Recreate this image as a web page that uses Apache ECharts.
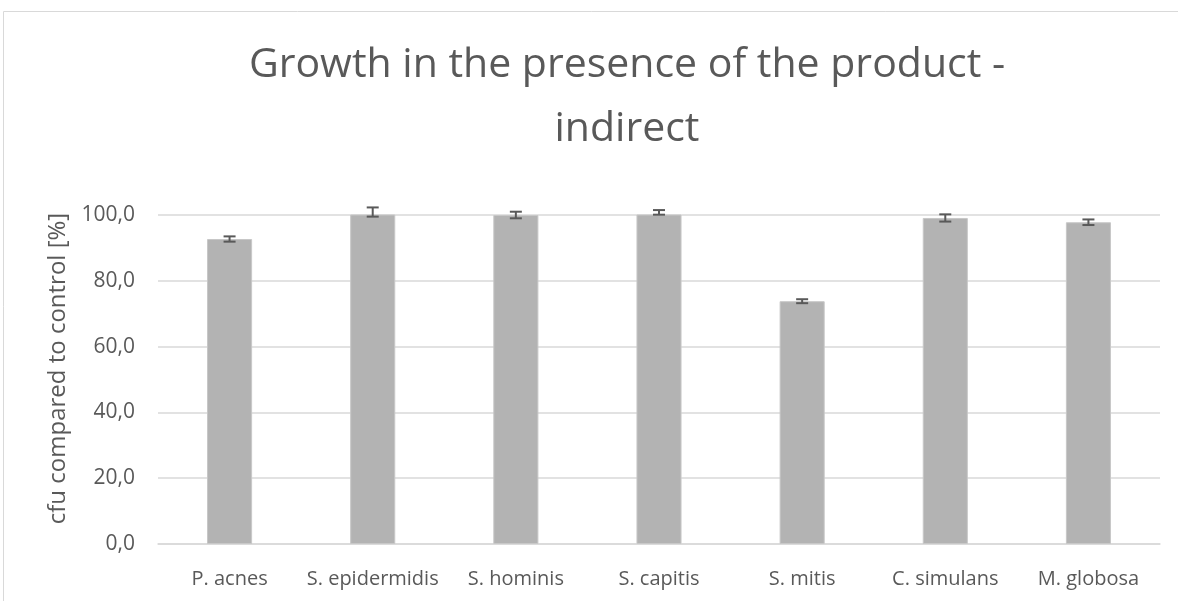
<!DOCTYPE html>
<html>
<head>
<meta charset="utf-8">
<script src="https://cdn.jsdelivr.net/npm/echarts@6/dist/echarts.min.js"></script>
<style>
  html, body { margin: 0; padding: 0; background: #fff; }
  #chart { width: 1178px; height: 601px; }
</style>
</head>
<body>
<div id="chart"></div>
<script>
// data
const categories = ['P. acnes', 'S. epidermidis', 'S. hominis', 'S. capitis', 'S. mitis', 'C. simulans', 'M. globosa'];
const growth = [92.7, 100.9, 100.0, 100.8, 73.8, 99.1, 97.8];
const errors = [0.8, 1.4, 1.0, 0.7, 0.6, 1.1, 0.85];
const yTicks = [0, 20, 40, 60, 80, 100];

const FONT = '"Open Sans", sans-serif';
const TEXT = '#595959';

const chart = echarts.init(document.getElementById('chart'));

// whisker data: [index, low, high]
const errorData = growth.map((v, i) => [i, v - errors[i], v + errors[i]]);

const option = {
  animation: false,
  title: {
    text: 'Growth in the presence of the product -\nindirect',
    left: 622,
    textAlign: 'center',
    top: 28,
    textStyle: {
      fontFamily: FONT,
      fontSize: 41,
      fontWeight: 'normal',
      color: TEXT,
      lineHeight: 64
    }
  },
  graphic: [
    {
      type: 'rect',
      shape: { x: 3.5, y: 11.5, width: 1200, height: 620 },
      style: { fill: 'none', stroke: '#d9d9d9', lineWidth: 1 },
      silent: true
    }
  ],
  grid: {
    left: 158,
    right: 18,
    top: 215,
    bottom: 57
  },
  xAxis: {
    type: 'category',
    data: categories,
    axisTick: { show: false },
    axisLine: { lineStyle: { color: '#d9d9d9', width: 1.5 } },
    axisLabel: {
      interval: 0,
      fontFamily: FONT,
      fontSize: 20,
      color: TEXT,
      margin: 25
    }
  },
  yAxis: {
    type: 'value',
    min: 0,
    max: 100,
    interval: 20,
    name: 'cfu compared to control [%]',
    nameLocation: 'middle',
    nameGap: 88,
    nameTextStyle: { fontFamily: FONT, fontSize: 24, color: TEXT, padding: [0, 0, 0, 22] },
    axisLine: { show: false },
    axisTick: { show: false },
    splitLine: { lineStyle: { color: '#d9d9d9', width: 1.5 } },
    axisLabel: {
      fontFamily: FONT,
      fontSize: 21,
      color: TEXT,
      margin: 23,
      formatter: v => yTicks.includes(v) ? v.toFixed(1).replace('.', ',') : ''
    }
  },
  series: [
    {
      name: 'growth',
      type: 'bar',
      data: growth,
      barWidth: '31.5%',
      itemStyle: { color: '#b3b3b3', borderColor: '#c8c8c8', borderWidth: 1 }
    },
    {
      name: 'error',
      type: 'custom',
      data: errorData,
      z: 10,
      renderItem: function (params, api) {
        const x = api.coord([api.value(0), 0])[0];
        const lo = api.coord([api.value(0), api.value(1)])[1];
        const hi = api.coord([api.value(0), api.value(2)])[1];
        const half = 6;
        const style = { stroke: '#595959', lineWidth: 2 };
        return {
          type: 'group',
          children: [
            { type: 'line', shape: { x1: x, y1: lo, x2: x, y2: hi }, style },
            { type: 'line', shape: { x1: x - half, y1: lo, x2: x + half, y2: lo }, style },
            { type: 'line', shape: { x1: x - half, y1: hi, x2: x + half, y2: hi }, style }
          ]
        };
      }
    }
  ]
};

chart.setOption(option);
</script>
</body>
</html>
